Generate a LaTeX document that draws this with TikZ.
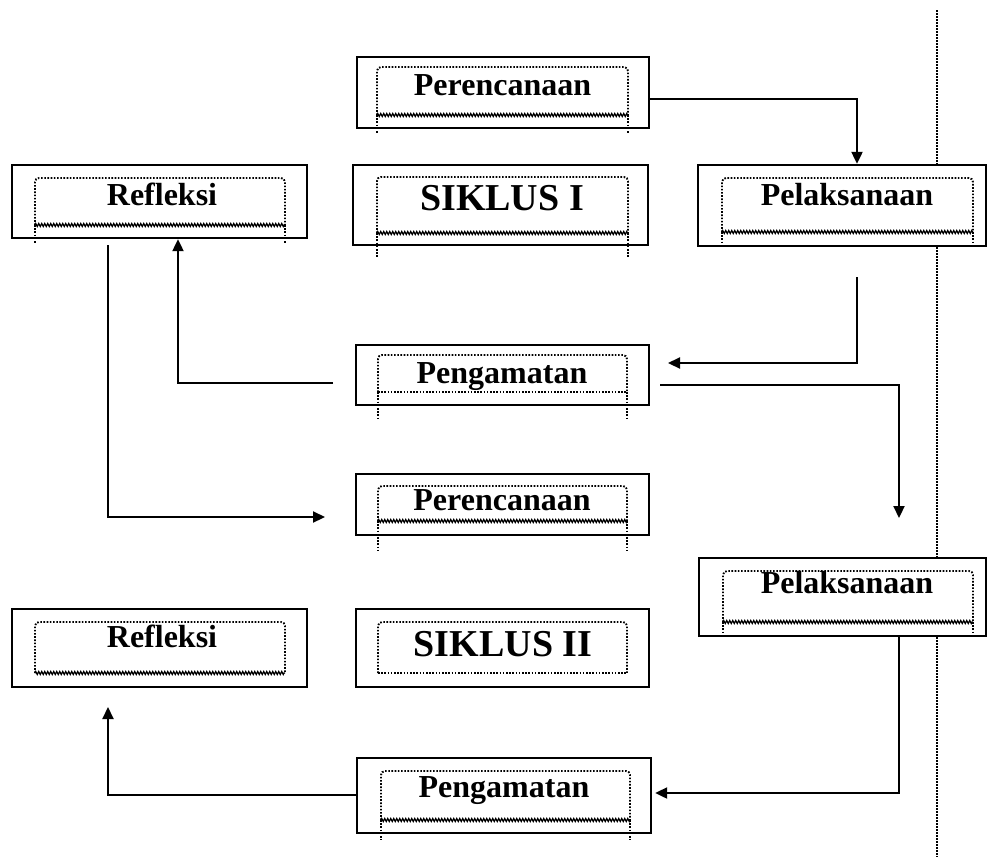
\documentclass[tikz,border=0pt]{standalone}
\usepackage{fontspec}
\setmainfont{Liberation Serif}
\usetikzlibrary{arrows.meta,decorations.pathmorphing,calc}

\tikzset{
 outerbox/.style={draw, line width=2.4pt, fill=white, rectangle, inner sep=0pt},
 lbl/.style={font=\fontsize{32}{38}\selectfont\bfseries, anchor=base, inner sep=0pt},
 biglbl/.style={font=\fontsize{38}{44}\selectfont\bfseries, anchor=base, inner sep=0pt},
 dots/.style={line width=1.9pt, dash pattern=on 1.6pt off 1.6pt},
 vdots/.style={line width=1.8pt, dash pattern=on 1.5pt off 1.5pt},
 wave/.style={line width=1.3pt, decorate, decoration={zigzag, segment length=3pt, amplitude=1.5pt}},
 conn/.style={line width=2.2pt},
 arr/.style={conn, -{Triangle[length=12pt,width=11pt]}},
}

% #1 x1, #2 y1, #3 x2, #4 y2, #5 tail end, #6 bottom style
\newcommand\myinner[6]{%
 \draw[dots, rounded corners=4pt] (#1,#4) -- (#1,#2) -- (#3,#2) -- (#3,#4);
 \draw[#6] (#1,#4) -- (#3,#4);
 \draw[dots] (#1,#4) -- (#1,#5);
 \draw[dots] (#3,#4) -- (#3,#5);
}

\begin{document}
\begin{tikzpicture}[x=1pt,y=-1pt]
\useasboundingbox (0,0) rectangle (988,857);
\fill[white] (0,0) rectangle (988,857);

% vertical dotted divider
\draw[vdots] (937,10) -- (937,857);

% outer boxes
\node[outerbox, minimum width=292pt, minimum height=71pt] (per1) at (503,92.5) {};
\node[outerbox, minimum width=295pt, minimum height=80pt] (sik1) at (500.5,205) {};
\node[outerbox, minimum width=288pt, minimum height=81pt] (pel1) at (842,205.5) {};
\node[outerbox, minimum width=295pt, minimum height=73pt] (ref1) at (159.5,201.5) {};
\node[outerbox, minimum width=293pt, minimum height=60pt] (pen1) at (502.5,375) {};
\node[outerbox, minimum width=293pt, minimum height=61pt] (per2) at (502.5,504.5) {};
\node[outerbox, minimum width=287pt, minimum height=78pt] (pel2) at (842.5,597) {};
\node[outerbox, minimum width=295pt, minimum height=78pt] (ref2) at (159.5,648) {};
\node[outerbox, minimum width=293pt, minimum height=78pt] (sik2) at (502.5,648) {};
\node[outerbox, minimum width=294pt, minimum height=75pt] (pen2) at (504,795.5) {};

% inner dotted frames
\myinner{377}{67}{628}{115}{133}{wave}
\myinner{377}{177}{628}{233}{257}{wave}
\myinner{722}{178}{973}{232}{242}{wave}
\myinner{35}{178}{285}{225}{243}{wave}
\myinner{378}{355}{627}{392}{420}{dots}
\myinner{378}{486}{627}{521}{550}{wave}
\myinner{723}{571}{973}{622}{632}{wave}
\myinner{35}{622}{285}{673}{673}{wave}
\myinner{378}{622}{627}{673}{673}{dots}
\myinner{381}{771}{630}{820}{840}{wave}

% labels
\node[lbl] (per1t) at (502.5,95) {Perencanaan};
\node[biglbl] (sik1t) at (502,210) {SIKLUS I};
\node[lbl] (pel1t) at (847,205) {Pelaksanaan};
\node[lbl] (ref1t) at (162,205) {Refleksi};
\node[lbl] (pen1t) at (502,383) {Pengamatan};
\node[lbl] (per2t) at (502,510) {Perencanaan};
\node[lbl] (pel2t) at (847,593) {Pelaksanaan};
\node[lbl] (ref2t) at (162,647) {Refleksi};
\node[biglbl] (sik2t) at (503,656) {SIKLUS II};
\node[lbl] (pen2t) at (504,797) {Pengamatan};

% free connector ends
\coordinate (c2s) at (857,277);
\coordinate (c2e) at (668,363);
\coordinate (c3s) at (333,383);
\coordinate (c4s) at (108,245);
\coordinate (c4e) at (325,517);
\coordinate (c5s) at (660,385);
\coordinate (c5e) at (899,518);
\coordinate (c7e) at (108,707);

% connectors
\draw[arr] ([yshift=-6.5pt]per1.east) -| ([xshift=15pt]pel1.north);
\draw[arr] (c2s) |- (c2e);
\draw[arr] (c3s) -| ([xshift=18.5pt]ref1.south);
\draw[arr] (c4s) |- (c4e);
\draw[arr] (c5s) -| (c5e);
\draw[arr] ([xshift=56.5pt]pel2.south) |- ([yshift=2.5pt,xshift=3pt]pen2.east);
\draw[arr] ([yshift=0.5pt]pen2.west) -| (c7e);
\end{tikzpicture}
\end{document}
